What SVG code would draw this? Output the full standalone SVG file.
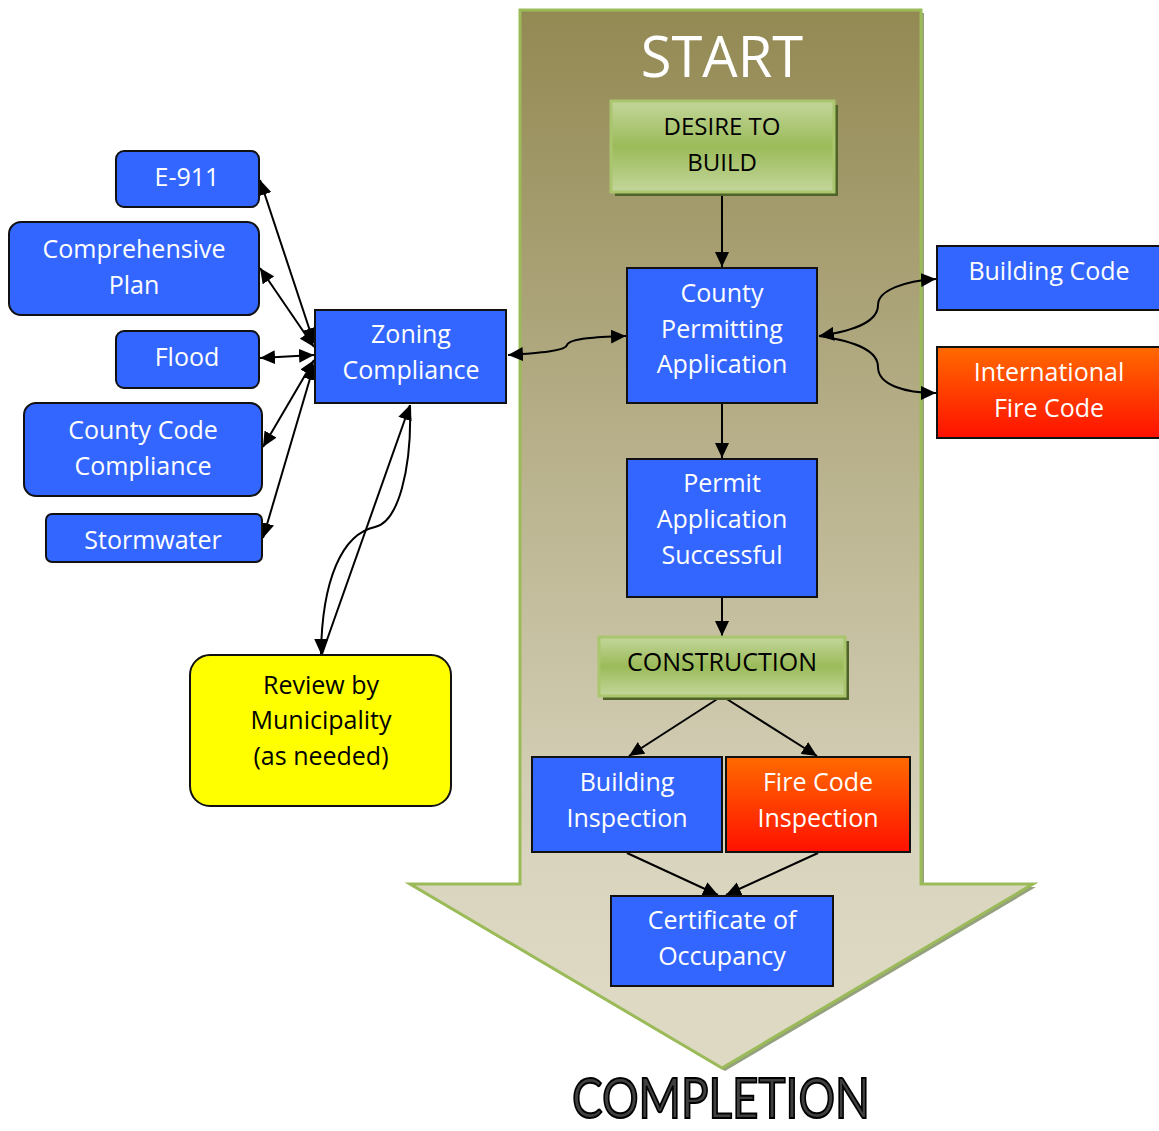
<svg xmlns="http://www.w3.org/2000/svg" width="1159" height="1131" viewBox="0 0 1159 1131">
<style>
text{font-family:"Open Sans","Liberation Sans",sans-serif;text-anchor:middle}
.w{fill:#fff;font-size:25px}
.k{fill:#000;font-size:25px}
.blue{fill:#3366ff;stroke:#111;stroke-width:2}
.fire{fill:url(#gFire);stroke:#111;stroke-width:2}
.green{fill:url(#gGreen);stroke:#a9c56d;stroke-width:3}
.gshadow{fill:#4f6228}
.c{fill:none;stroke:#000;stroke-width:2}
</style>
<defs>
<linearGradient id="gArrow" x1="0" y1="10" x2="0" y2="1000" gradientUnits="userSpaceOnUse">
<stop offset="0" stop-color="#938953"/>
<stop offset="0.85" stop-color="#d8d4bd"/>
<stop offset="1" stop-color="#ddd9c3"/>
</linearGradient>
<linearGradient id="gGreen" x1="0" y1="0" x2="0" y2="1">
<stop offset="0" stop-color="#c3d69b"/>
<stop offset="0.5" stop-color="#9bbb59"/>
<stop offset="1" stop-color="#c3d69b"/>
</linearGradient>
<linearGradient id="gFire" x1="0" y1="0" x2="0" y2="1">
<stop offset="0" stop-color="#ff6a00"/>
<stop offset="1" stop-color="#ff1100"/>
</linearGradient>
<marker id="ah" refX="15" refY="7" markerWidth="16" markerHeight="14" markerUnits="userSpaceOnUse" orient="auto-start-reverse">
<path d="M0,0 L15,7 L0,14 Z" fill="#000"/>
</marker>
</defs>

<g id="bigArrow">
<polygon points="523,13 924,13 924,887 1036,887 725,1071 413,887 523,887" fill="#4f6228" opacity="0.6"/>
<polygon points="520,10 921,10 921,884 1033,884 722,1068 410,884 520,884" fill="url(#gArrow)" stroke="#9bbb59" stroke-width="3"/>
<text x="722" y="77" style="fill:#fff;font-size:56px">START</text>
</g>

<g id="connectors">
<line class="c" x1="722" y1="193" x2="722" y2="267" marker-end="url(#ah)"/>
<line class="c" x1="722" y1="404" x2="722" y2="458" marker-end="url(#ah)"/>
<line class="c" x1="722" y1="598" x2="722" y2="636" marker-end="url(#ah)"/>
<line class="c" x1="722" y1="696" x2="629" y2="756" marker-end="url(#ah)"/>
<line class="c" x1="722" y1="696" x2="817" y2="756" marker-end="url(#ah)"/>
<line class="c" x1="627" y1="853" x2="718" y2="895" marker-end="url(#ah)"/>
<line class="c" x1="818" y1="853" x2="726" y2="895" marker-end="url(#ah)"/>
<path class="c" d="M508,355 C540,353 565,351 567,345 C570,338 600,337 626,336" marker-start="url(#ah)" marker-end="url(#ah)"/>
<path class="c" d="M819,336 C860,330 878,320 878,305 C878,290 905,281 936,279" marker-start="url(#ah)" marker-end="url(#ah)"/>
<path class="c" d="M819,336 C860,342 878,352 878,367 C878,385 905,393 936,393" marker-end="url(#ah)"/>
<line class="c" x1="314" y1="343" x2="260" y2="180" marker-start="url(#ah)" marker-end="url(#ah)"/>
<line class="c" x1="314" y1="347" x2="260" y2="268" marker-start="url(#ah)" marker-end="url(#ah)"/>
<line class="c" x1="314" y1="355" x2="260" y2="358" marker-start="url(#ah)" marker-end="url(#ah)"/>
<line class="c" x1="314" y1="360" x2="263" y2="447" marker-start="url(#ah)" marker-end="url(#ah)"/>
<line class="c" x1="314" y1="365" x2="263" y2="538" marker-start="url(#ah)" marker-end="url(#ah)"/>
<line class="c" x1="322" y1="654" x2="410" y2="405" marker-end="url(#ah)"/>
<path class="c" d="M410,405 C412,470 398,522 375,527 C342,534 322,580 321,654" marker-end="url(#ah)"/>
</g>

<g id="desire">
<rect class="gshadow" x="615" y="105" width="223" height="91"/>
<rect class="green" x="611" y="101" width="223" height="91"/>
<text class="k" x="722" y="135" style="font-size:24px">DESIRE TO</text>
<text class="k" x="722" y="171" style="font-size:24px">BUILD</text>
</g>

<g id="county">
<rect class="blue" x="627" y="268" width="190" height="135"/>
<text class="w" x="722" y="302">County</text>
<text class="w" x="722" y="338">Permitting</text>
<text class="w" x="722" y="373">Application</text>
</g>

<g id="permit">
<rect class="blue" x="627" y="459" width="190" height="138"/>
<text class="w" x="722" y="492">Permit</text>
<text class="w" x="722" y="528">Application</text>
<text class="w" x="722" y="564">Successful</text>
</g>

<g id="construction">
<rect class="gshadow" x="603" y="641" width="246" height="59"/>
<rect class="green" x="599" y="637" width="246" height="59"/>
<text class="k" x="722" y="671">CONSTRUCTION</text>
</g>

<g id="buildingInspection">
<rect class="blue" x="532" y="757" width="190" height="95"/>
<text class="w" x="627" y="791">Building</text>
<text class="w" x="627" y="827">Inspection</text>
</g>

<g id="fireInspection">
<rect class="fire" x="726" y="757" width="184" height="95"/>
<text class="w" x="818" y="791">Fire Code</text>
<text class="w" x="818" y="827">Inspection</text>
</g>

<g id="certificate">
<rect class="blue" x="611" y="896" width="222" height="90"/>
<text class="w" x="722" y="929">Certificate of</text>
<text class="w" x="722" y="965">Occupancy</text>
</g>

<g id="buildingCode">
<rect class="blue" x="937" y="246" width="224" height="64"/>
<text class="w" x="1049" y="280">Building Code</text>
</g>

<g id="fireCode">
<rect class="fire" x="937" y="347" width="224" height="91"/>
<text class="w" x="1049" y="381">International</text>
<text class="w" x="1049" y="417">Fire Code</text>
</g>

<g id="zoning">
<rect class="blue" x="315" y="310" width="191" height="93"/>
<text class="w" x="411" y="343">Zoning</text>
<text class="w" x="411" y="379">Compliance</text>
</g>

<g id="e911">
<rect class="blue" x="116" y="151" width="143" height="56" rx="8"/>
<text class="w" x="187" y="186">E-911</text>
</g>

<g id="comprehensive">
<rect class="blue" x="9" y="222" width="250" height="93" rx="12"/>
<text class="w" x="134" y="258">Comprehensive</text>
<text class="w" x="134" y="294">Plan</text>
</g>

<g id="flood">
<rect class="blue" x="116" y="331" width="143" height="57" rx="8"/>
<text class="w" x="187" y="366">Flood</text>
</g>

<g id="countyCode">
<rect class="blue" x="24" y="403" width="238" height="93" rx="12"/>
<text class="w" x="143" y="439">County Code</text>
<text class="w" x="143" y="475">Compliance</text>
</g>

<g id="stormwater">
<rect class="blue" x="46" y="514" width="216" height="48" rx="6"/>
<text class="w" x="153" y="549">Stormwater</text>
</g>

<g id="review">
<rect x="190" y="655" width="261" height="151" rx="20" fill="#ffff00" stroke="#111" stroke-width="2"/>
<text class="k" x="321" y="694">Review by</text>
<text class="k" x="321" y="729">Municipality</text>
<text class="k" x="321" y="765">(as needed)</text>
</g>

<text x="721" y="1118" textLength="298" lengthAdjust="spacingAndGlyphs" style="font-family:Lato,'Open Sans',sans-serif;font-size:56px;fill:#404040;stroke:#000;stroke-width:2">COMPLETION</text>
</svg>
